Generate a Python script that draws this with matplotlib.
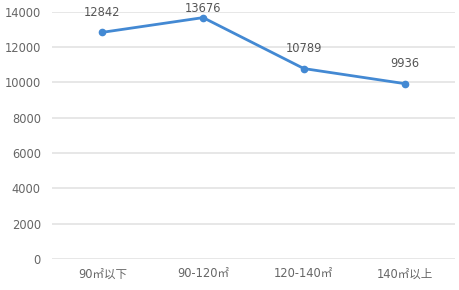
import matplotlib
matplotlib.use("Agg")
import matplotlib.pyplot as plt

categories = ["90㎡以下", "90-120㎡", "120-140㎡", "140㎡以上"]
values = [12842, 13676, 10789, 9936]
yticks = [0, 2000, 4000, 6000, 8000, 10000, 12000, 14000]

plt.rcParams['font.family'] = ['DejaVu Sans', 'Noto Sans CJK SC']

fig = plt.figure(figsize=(4.6, 2.9), dpi=100)
ax = fig.add_axes([0.113, 0.107, 0.876, 0.852])
x = list(range(len(categories)))
ax.plot(x, values, color="#4389d3", lw=2, marker="o", ms=4.5, zorder=3)
label_offset = 1130
label_cap = 14170
for xi, v in zip(x, values):
    ax.text(xi, min(v + label_offset, label_cap), str(v), ha="center", va="center",
            fontsize=8.3, color="#555555", clip_on=False)
ax.set_xlim(-0.5, len(categories) - 0.5)
ax.set_ylim(0, 14000)
ax.set_yticks(yticks)
ax.set_yticklabels([str(t) for t in yticks])
ax.set_xticks(x)
ax.set_xticklabels(categories)
ax.grid(axis="y", color="#e3e3e3", lw=1.2)
ax.set_axisbelow(True)
for s in ax.spines.values():
    s.set_visible(False)
ax.tick_params(axis="both", length=0, labelsize=8.3, labelcolor="#666666")
ax.tick_params(axis="y", pad=8)
ax.tick_params(axis="x", pad=6)
fig.savefig("out.png", dpi=100)
